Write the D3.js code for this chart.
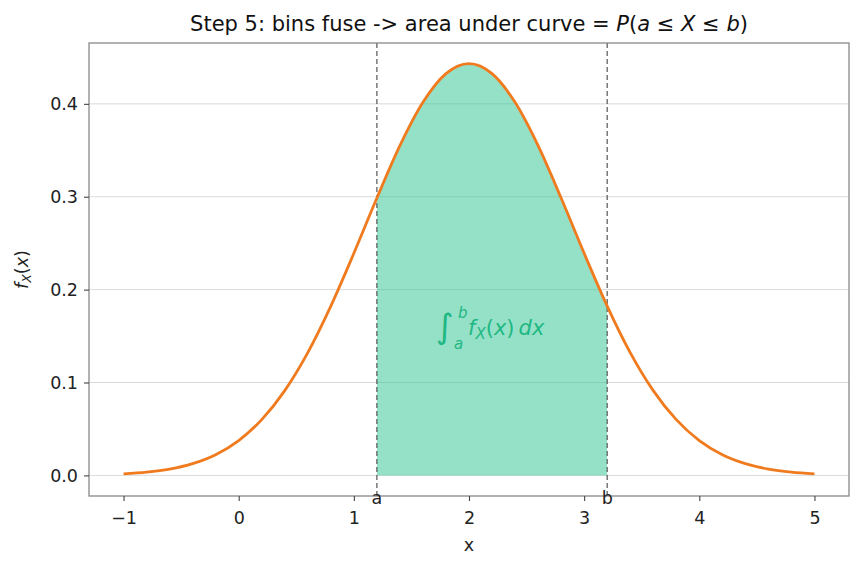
<!DOCTYPE html>
<html><head><meta charset="utf-8">
<script src="https://cdn.jsdelivr.net/npm/d3@7"></script>
<style>body{margin:0;background:#fff}text{font-family:"DejaVu Sans",sans-serif}</style>
</head><body><svg id="c" width="862" height="569"></svg>
<script>
const xs = [-1,-0.8,-0.6,-0.4,-0.2,0,0.2,0.4,0.6,0.8,1,1.2,1.4,1.6,1.8,2,2.2,2.4,2.6,2.8,3,3.2,3.4,3.6,3.8,4,4.2,4.4,4.6,4.8,5];
const density = [0.0017,0.0035,0.0068,0.0127,0.0223,0.0375,0.0600,0.0913,0.1322,0.1823,0.2391,0.2986,0.3550,0.4016,0.4325,0.4433,0.4325,0.4016,0.3550,0.2986,0.2391,0.1823,0.1322,0.0913,0.0600,0.0375,0.0223,0.0127,0.0068,0.0035,0.0017];
const bounds = [1.2, 3.2];
const boundLabels = ["a", "b"];
const xTicks = [-1,0,1,2,3,4,5];
const yTicks = [0.0,0.1,0.2,0.3,0.4];

const svg = d3.select("#c");
const L=89,R=849,T=43,B=496;
const FS=17.5;
const x = d3.scaleLinear().domain([-1.3,5.3]).range([L,R]);
const y = d3.scaleLinear().domain([-0.02217,0.46550]).range([B,T]);
const data = xs.map((v,i)=>({x:v,y:density[i]}));

// grid
svg.append("g").selectAll("line").data(yTicks).join("line")
  .attr("x1",L).attr("x2",R).attr("y1",d=>y(d)).attr("y2",d=>y(d))
  .attr("stroke","#d6d6d6").attr("stroke-width",0.9);

// area
const inside = data.filter(d=>d.x>=bounds[0]-1e-9 && d.x<=bounds[1]+1e-9);
svg.append("path").datum(inside)
  .attr("d", d3.area().x(d=>x(d.x)).y0(y(0)).y1(d=>y(d.y)).curve(d3.curveMonotoneX))
  .attr("fill","#2bc391").attr("fill-opacity",0.5);

// dashed bounds
svg.append("g").selectAll("line").data(bounds).join("line")
  .attr("x1",d=>x(d)).attr("x2",d=>x(d)).attr("y1",T).attr("y2",B)
  .attr("stroke","#555").attr("stroke-width",1.2).attr("stroke-dasharray","5,3");

// curve
svg.append("path").datum(data)
  .attr("d", d3.line().x(d=>x(d.x)).y(d=>y(d.y)).curve(d3.curveMonotoneX))
  .attr("fill","none").attr("stroke","#f07b1f").attr("stroke-width",2.8);

// frame
svg.append("rect").attr("x",L).attr("y",T).attr("width",R-L).attr("height",B-T)
  .attr("fill","none").attr("stroke","#888").attr("stroke-width",1.3);

// axes
const xAxis = svg.append("g").attr("transform",`translate(0,${B})`)
  .call(d3.axisBottom(x).tickValues(xTicks).tickSize(5).tickPadding(11).tickFormat(d=>d<0?"\u2212"+Math.abs(d):d));
const yAxis = svg.append("g").attr("transform",`translate(${L},0)`)
  .call(d3.axisLeft(y).tickValues(yTicks).tickSize(5).tickPadding(6).tickFormat(d3.format(".1f")));
[xAxis,yAxis].forEach(g=>{
  g.select(".domain").remove();
  g.selectAll(".tick line").attr("stroke","#444").attr("stroke-width",1.1);
  g.selectAll(".tick text").attr("font-size",FS).attr("fill","#222").attr("font-family","DejaVu Sans");
});

// a,b labels
svg.append("g").selectAll("text").data(bounds).join("text")
  .attr("x",d=>x(d)).attr("y",B+8).attr("text-anchor","middle").attr("font-size",FS).attr("fill","#222")
  .text((d,i)=>boundLabels[i]);

// axis labels
svg.append("text").attr("x",(L+R)/2).attr("y",551).attr("text-anchor","middle").attr("font-size",FS).attr("fill","#222").text("x");
const yl = svg.append("text").attr("transform",`translate(28,${(T+B)/2}) rotate(-90)`).attr("text-anchor","middle").attr("font-size",FS).attr("fill","#222");
yl.append("tspan").attr("font-style","italic").text("f");
yl.append("tspan").attr("font-style","italic").attr("font-size",12.5).attr("dy",3).text("X");
yl.append("tspan").attr("dy",-3).text("(");
yl.append("tspan").attr("font-style","italic").text("x");
yl.append("tspan").text(")");

// title
const tt = svg.append("text").attr("x",(L+R)/2).attr("y",31).attr("text-anchor","middle").attr("font-size",21).attr("fill","#111");
tt.append("tspan").text("Step 5: bins fuse -> area under curve = ");
tt.append("tspan").attr("font-style","italic").text("P");
tt.append("tspan").text("(");
tt.append("tspan").attr("font-style","italic").text("a");
tt.append("tspan").text(" \u2264 ");
tt.append("tspan").attr("font-style","italic").text("X");
tt.append("tspan").text(" \u2264 ");
tt.append("tspan").attr("font-style","italic").text("b");
tt.append("tspan").text(")");

// integral annotation
const cx = x((bounds[0]+bounds[1])/2), cy = y(0.155);
const g = svg.append("g").attr("transform",`translate(${cx},${cy})`).attr("fill","#1fb882");
g.append("text").attr("x",-56).attr("y",7).attr("font-size",34).text("\u222B");
g.append("text").attr("x",-34).attr("y",-13).attr("font-size",15).attr("font-style","italic").text("b");
g.append("text").attr("x",-38).attr("y",18).attr("font-size",15).attr("font-style","italic").text("a");
const m = g.append("text").attr("x",-24).attr("y",4).attr("font-size",21);
m.append("tspan").attr("font-style","italic").text("f");
m.append("tspan").attr("font-size",15).attr("font-style","italic").attr("dy",4).text("X");
m.append("tspan").attr("dy",-4).text("(");
m.append("tspan").attr("font-style","italic").text("x");
m.append("tspan").text(")");
m.append("tspan").attr("font-style","italic").attr("dx",4).text("dx");
</script></body></html>
